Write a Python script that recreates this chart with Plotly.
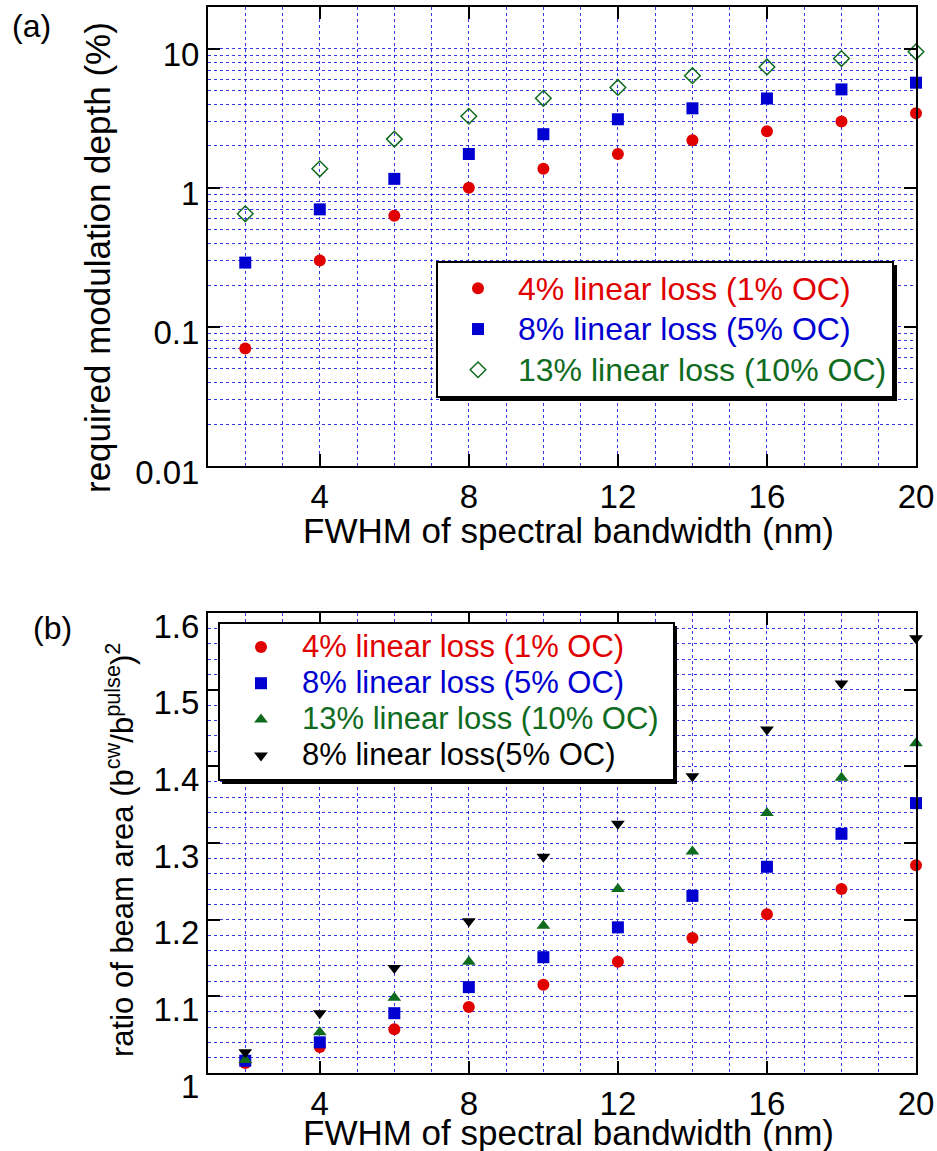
import plotly.graph_objects as go

# FWHM of spectral bandwidth (nm)
fwhm = [2, 4, 6, 8, 10, 12, 14, 16, 18, 20]

# (a) required modulation depth (%)
depth_4 = [0.07, 0.30, 0.63, 1.0, 1.37, 1.75, 2.2, 2.55, 3.0, 3.43]
depth_8 = [0.29, 0.70, 1.16, 1.75, 2.43, 3.11, 3.73, 4.39, 5.1, 5.7]
depth_13 = [0.65, 1.37, 2.24, 3.27, 4.4, 5.27, 6.4, 7.4, 8.5, 9.5]

# (b) ratio of beam area
ratio_4 = [1.013, 1.034, 1.057, 1.086, 1.115, 1.145, 1.176, 1.207, 1.240, 1.271]
ratio_8 = [1.016, 1.040, 1.078, 1.112, 1.151, 1.190, 1.231, 1.269, 1.312, 1.352]
ratio_13 = [1.017, 1.053, 1.098, 1.145, 1.192, 1.240, 1.289, 1.339, 1.385, 1.430]
ratio_8b = [1.027, 1.078, 1.137, 1.198, 1.282, 1.325, 1.387, 1.448, 1.508, 1.567]

names_a = ["4% linear loss (1% OC)", "8% linear loss (5% OC)", "13% linear loss (10% OC)"]
names_b = ["4% linear loss (1% OC)", "8% linear loss (5% OC)",
           "13% linear loss (10% OC)&nbsp;", "8% linear loss(5% OC)"]

RED = "#e00000"
BLUE = "#0000d0"
GREEN = "#0f6b1e"
BLACK = "#000000"
GRID = "rgba(20,20,225,0.85)"
FONT = "Liberation Sans, Arial, sans-serif"

W, H = 937, 1151


def px_x(p):
    return p / W


def px_y(p):
    return 1 - p / H


def entry(text, color, size):
    # legend text drawn a little larger than the row spacing font
    return f"<span style='color:{color};font-size:{size}px'>{text}</span>"


fig = go.Figure()

# panel (a)
fig.add_trace(go.Scatter(x=fwhm, y=depth_4, mode="markers", name=entry(names_a[0], RED, 32),
                         marker=dict(symbol="circle", size=12, color=RED), cliponaxis=False,
                         xaxis="x", yaxis="y", legend="legend"))
fig.add_trace(go.Scatter(x=fwhm, y=depth_8, mode="markers", name=entry(names_a[1], BLUE, 32),
                         marker=dict(symbol="square", size=12, color=BLUE), cliponaxis=False,
                         xaxis="x", yaxis="y", legend="legend"))
fig.add_trace(go.Scatter(x=fwhm, y=depth_13, mode="markers", name=entry(names_a[2], GREEN, 32),
                         marker=dict(symbol="diamond-open", size=12, color=GREEN,
                                     line=dict(width=1.5, color=GREEN)), cliponaxis=False,
                         xaxis="x", yaxis="y", legend="legend"))

# panel (b)
fig.add_trace(go.Scatter(x=fwhm, y=ratio_4, mode="markers", name=entry(names_b[0], RED, 31),
                         marker=dict(symbol="circle", size=12, color=RED), cliponaxis=False,
                         xaxis="x2", yaxis="y2", legend="legend2"))
fig.add_trace(go.Scatter(x=fwhm, y=ratio_8, mode="markers", name=entry(names_b[1], BLUE, 31),
                         marker=dict(symbol="square", size=12, color=BLUE), cliponaxis=False,
                         xaxis="x2", yaxis="y2", legend="legend2"))
fig.add_trace(go.Scatter(x=fwhm, y=ratio_13, mode="markers", name=entry(names_b[2], GREEN, 31),
                         marker=dict(symbol="triangle-up", size=12, color=GREEN),
                         cliponaxis=False, xaxis="x2", yaxis="y2", legend="legend2"))
fig.add_trace(go.Scatter(x=fwhm, y=ratio_8b, mode="markers", name=entry(names_b[3], BLACK, 31),
                         marker=dict(symbol="triangle-down", size=12, color=BLACK),
                         cliponaxis=False, xaxis="x2", yaxis="y2", legend="legend2"))

x_dom = [px_x(208), px_x(916)]
tick_font = dict(family=FONT, size=33, color="black")
dash = "3px,3px"

common_x = dict(
    range=[1, 20], tick0=0, dtick=4, ticks="inside", ticklen=12, tickwidth=1.5,
    tickcolor="black", showline=True, linecolor="black", linewidth=2, mirror="ticks",
    showgrid=True, gridcolor=GRID, griddash=dash, gridwidth=1,
    minor=dict(dtick=1, showgrid=True, gridcolor=GRID, griddash=dash, gridwidth=1),
    tickfont=tick_font, zeroline=False, domain=x_dom, fixedrange=True, automargin=False,
)

fig.update_layout(
    width=W, height=H,
    margin=dict(l=0, r=0, t=0, b=0),
    paper_bgcolor="white", plot_bgcolor="white",
    font=dict(family=FONT, size=30, color="black"),
    showlegend=True,
    xaxis=dict(common_x, anchor="y"),
    yaxis=dict(
        type="log", range=[-2, 1.3], dtick=1, domain=[px_y(466), px_y(7)], anchor="x",
        ticks="inside", ticklen=12, tickwidth=1.5, tickcolor="black",
        showline=True, linecolor="black", linewidth=2, mirror="ticks",
        showgrid=True, gridcolor=GRID, griddash=dash, gridwidth=1,
        minor=dict(dtick="D1", showgrid=True, gridcolor=GRID, griddash=dash, gridwidth=1),
        tickfont=tick_font, ticklabelshift=6, zeroline=False, fixedrange=True,
        automargin=False,
    ),
    xaxis2=dict(common_x, anchor="y2"),
    yaxis2=dict(
        range=[1, 1.6], dtick=0.1, tick0=1, domain=[px_y(1073), px_y(613)], anchor="x2",
        ticks="inside", ticklen=12, tickwidth=1.5, tickcolor="black",
        showline=True, linecolor="black", linewidth=2, mirror="ticks",
        showgrid=True, gridcolor=GRID, griddash=dash, gridwidth=1,
        minor=dict(dtick=0.02, showgrid=True, gridcolor=GRID, griddash=dash, gridwidth=1),
        tickfont=tick_font, ticklabelshift=13, zeroline=False, fixedrange=True,
        automargin=False,
    ),
    legend=dict(
        x=px_x(436), y=px_y(261), xanchor="left", yanchor="top",
        bgcolor="white", bordercolor="black", borderwidth=2,
        font=dict(family=FONT, size=29), itemwidth=70, tracegroupgap=0,
    ),
    legend2=dict(
        x=px_x(218), y=px_y(622), xanchor="left", yanchor="top",
        bgcolor="white", bordercolor="black", borderwidth=2,
        font=dict(family=FONT, size=25.5), itemwidth=72, tracegroupgap=0,
    ),
)

# legend drop shadows
fig.add_shape(type="rect", xref="paper", yref="paper",
              x0=px_x(440), x1=px_x(897), y0=px_y(401), y1=px_y(265),
              fillcolor="black", line=dict(width=0), layer="above")
fig.add_shape(type="rect", xref="paper", yref="paper",
              x0=px_x(222), x1=px_x(677), y0=px_y(784), y1=px_y(626),
              fillcolor="black", line=dict(width=0), layer="above")

annotations = [
    dict(text="(a)", x=px_x(31), y=px_y(26), size=32),
    dict(text="(b)", x=px_x(52), y=px_y(628), size=32),
    dict(text="FWHM of spectral bandwidth (nm)", x=px_x(568), y=px_y(530), size=35),
    dict(text="FWHM of spectral bandwidth (nm)", x=px_x(568), y=px_y(1132), size=35),
    dict(text="required modulation depth (%)", x=px_x(97), y=px_y(258), size=35,
         textangle=-90),
    dict(text="ratio of beam area (b<sup>cw</sup>/b<sup>pulse</sup>)<sup>2</sup>",
         x=px_x(120), y=px_y(850), size=31, textangle=-90),
]
for a in annotations:
    size = a.pop("size")
    fig.add_annotation(xref="paper", yref="paper", xanchor="center", yanchor="middle",
                       showarrow=False, font=dict(family=FONT, size=size, color="black"),
                       **a)

fig.write_html("out.html")
